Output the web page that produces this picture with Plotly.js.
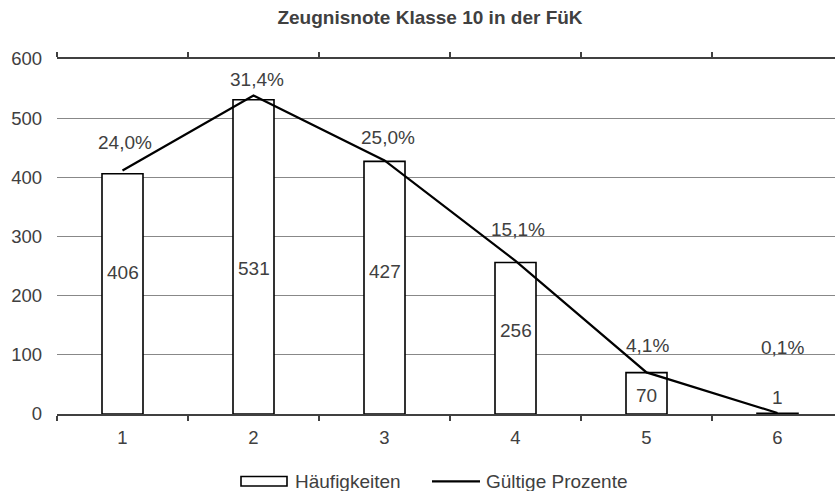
<!DOCTYPE html>
<html>
<head>
<meta charset="utf-8">
<script src="https://cdn.plot.ly/plotly-3.0.1.min.js"></script>
<style>html,body{margin:0;padding:0;background:#fff;}#chart{width:835px;height:491px;}</style>
</head>
<body>
<div id="chart"></div>
<script>
var categories = ['1', '2', '3', '4', '5', '6'];
var counts = [406, 531, 427, 256, 70, 1];
var percents = [24.0, 31.4, 25.0, 15.1, 4.1, 0.1];
var seriesNames = ['Häufigkeiten', 'Gültige Prozente'];
var chartTitle = 'Zeugnisnote Klasse 10 in der FüK';

// label placement tweaks (layout only)
var countLabelShift = [21, -12, 16, 8, -2, 16];
var pctLabelShift = [28, 16, 23, 31, 27, 65];
var pctLabelXShift = [2, 3, 3, 2, 1, 5];

var W = 835, H = 491, L = 57, T = 59, B = 77;
var plotW = W - L, plotH = H - T - B;
function px(x) { return (x - L) / plotW; }
function py(y) { return (H - B - y) / plotH; }

var txt = '#404040';
var font = {family: 'Liberation Sans, Arial, sans-serif', size: 19, color: txt};

var bars = {
  type: 'bar', x: categories, y: counts, name: seriesNames[0],
  width: 0.313,
  marker: {color: '#ffffff', line: {color: '#000000', width: 1.6}},
  hoverinfo: 'skip', showlegend: false
};
var line = {
  type: 'scatter', mode: 'lines', x: categories, y: percents, yaxis: 'y2',
  name: seriesNames[1], line: {color: '#000000', width: 2.2},
  hoverinfo: 'skip', showlegend: false
};

var annotations = [];
categories.forEach(function (c, i) {
  annotations.push({
    x: i, y: counts[i] / 2, xref: 'x', yref: 'y', text: String(counts[i]),
    showarrow: false, xanchor: 'center', yanchor: 'middle', yshift: countLabelShift[i],
    font: font
  });
  annotations.push({
    x: i, y: percents[i], xref: 'x', yref: 'y2',
    text: percents[i].toFixed(1).replace('.', ',') + '%',
    showarrow: false, xanchor: 'center', yanchor: 'middle',
    yshift: pctLabelShift[i], xshift: pctLabelXShift[i], font: font
  });
});
// custom legend texts
annotations.push({x: px(293), y: py(481), xref: 'paper', yref: 'paper', text: seriesNames[0],
  showarrow: false, xanchor: 'left', yanchor: 'middle', font: font});
annotations.push({x: px(484), y: py(481), xref: 'paper', yref: 'paper', text: seriesNames[1],
  showarrow: false, xanchor: 'left', yanchor: 'middle', font: font});

var shapes = [
  {type: 'rect', xref: 'paper', yref: 'paper', x0: px(241), x1: px(287), y0: py(486), y1: py(476.5),
    line: {color: '#000000', width: 1.6}, fillcolor: '#ffffff'},
  {type: 'line', xref: 'paper', yref: 'paper', x0: px(432), x1: px(480), y0: py(481.3), y1: py(481.3),
    line: {color: '#000000', width: 2.2}}
];

var layout = {
  width: W, height: H,
  margin: {l: L, r: 0, t: T, b: B, pad: 0},
  paper_bgcolor: '#ffffff', plot_bgcolor: '#ffffff',
  font: font,
  title: {text: '<b>' + chartTitle + '</b>', x: 430 / W, xref: 'container', xanchor: 'center',
    y: 1 - 17 / H, yref: 'container', yanchor: 'middle',
    font: {family: 'Liberation Sans, Arial, sans-serif', size: 19, color: txt}},
  showlegend: false,
  xaxis: {
    type: 'category', range: [-0.5, -0.5 + plotW / 131], fixedrange: true,
    tickson: 'boundaries', ticks: 'outside', ticklen: 5, tickwidth: 1.5, tickcolor: '#404040',
    showline: true, linecolor: '#404040', linewidth: 1.7, mirror: 'ticks',
    showgrid: false, zeroline: false,
    tickfont: {family: 'Liberation Sans, Arial, sans-serif', size: 18.5, color: txt},
    ticklabelstandoff: 6
  },
  yaxis: {
    range: [0, 600], dtick: 100, tick0: 0,
    showgrid: true, gridcolor: '#888888', gridwidth: 1.3,
    zeroline: false, showline: false, ticks: '',
    tickfont: {family: 'Liberation Sans, Arial, sans-serif', size: 18.5, color: txt},
    ticklabelstandoff: 14
  },
  yaxis2: {range: [0, 35], overlaying: 'y', side: 'right', visible: false},
  annotations: annotations,
  shapes: shapes,
  bargap: 0
};

Plotly.newPlot('chart', [bars, line], layout, {displayModeBar: false, staticPlot: true});
</script>
</body>
</html>
